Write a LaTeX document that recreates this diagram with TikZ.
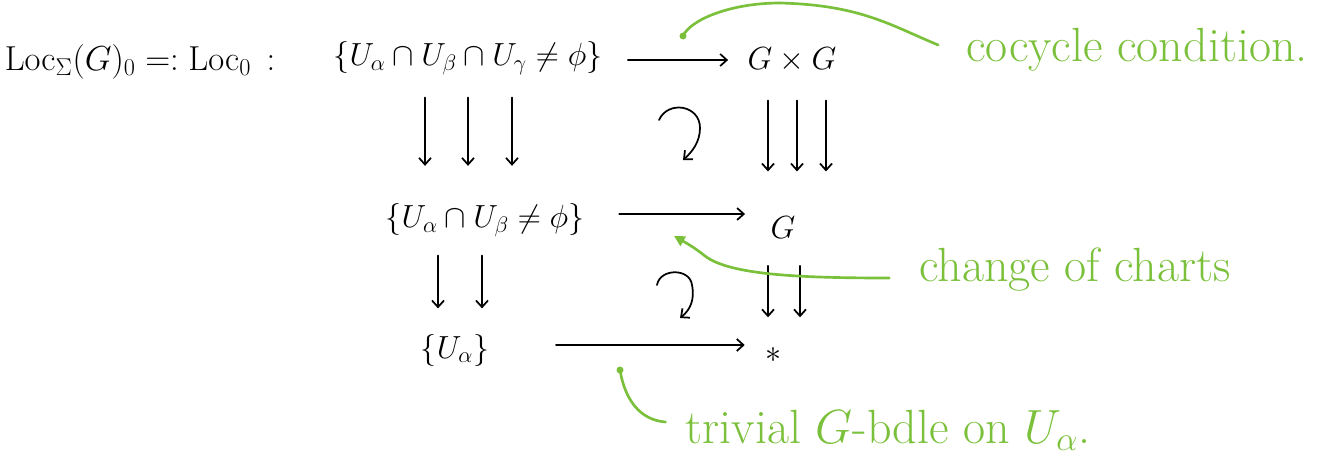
\documentclass[tikz,border=0pt]{standalone}
\usepackage{fix-cm}
\usetikzlibrary{arrows.meta,calc}
\definecolor{ann}{RGB}{122,192,58}
\begin{document}
\begin{tikzpicture}[x=0.75pt,y=-0.75pt,
  obj/.style={inner sep=0pt,font=\fontsize{24}{28}\selectfont},
  note/.style={inner sep=0pt,text=ann,font=\fontsize{36}{40}\selectfont},
  arr/.style={-{Straight Barb[length=5pt,width=9pt]},line width=1.3pt,line cap=round},
  turn/.style={-{Straight Barb[length=5pt,width=9pt]},line width=1.3pt,line cap=round},
  gline/.style={draw=ann,line width=2pt,line cap=round}]
\useasboundingbox (0,0) rectangle (1320,461);
% objects
\node[obj,font=\fontsize{26}{30}\selectfont] (loc) at (140,62) {$\mathrm{Loc}_{\Sigma}(G)_0 =: \mathrm{Loc}_0\,:$};
\node[obj] (A) at (468,58) {$\{U_\alpha\cap U_\beta\cap U_\gamma\neq\phi\}$};
\node[obj] (B) at (792,60) {$G\times G$};
\node[obj] (C) at (485,220) {$\{U_\alpha\cap U_\beta\neq\phi\}$};
\node[obj] (D) at (783,228) {$G$};
\node[obj] (E) at (455,350) {$\{U_\alpha\}$};
\node[obj] (F) at (773,355) {$*$};
% column coordinates
\coordinate (a1) at (425,0); \coordinate (a2) at (468,0); \coordinate (a3) at (512,0);
\coordinate (b1) at (768,0); \coordinate (b2) at (797,0); \coordinate (b3) at (826,0);
\coordinate (c1) at (438,0); \coordinate (c2) at (482,0);
\coordinate (d1) at (768,0); \coordinate (d2) at (800,0);
% horizontal arrows
\draw[arr,shorten <=19pt,shorten >=14.5pt] ([yshift=-1.5pt]A.east) -- ([yshift=-1.5pt]A.east -| B.west);
\draw[arr,shorten <=26pt,shorten >=19pt] ([yshift=4.5pt]C.east) -- ([yshift=4.5pt]C.east -| D.west);
\draw[arr,shorten <=50pt,shorten >=15pt] ([yshift=3.75pt]E.east) -- ([yshift=3.75pt]E.east -| F.west);
% vertical arrows row 1
\foreach \c in {a1,a2,a3}{\draw[arr,shorten <=17pt,shorten >=28pt] (A.south -| \c) -- (C.north -| \c);}
\foreach \c in {b1,b2,b3}{\draw[arr,shorten <=21pt,shorten >=34pt] (B.south -| \c) -- (D.north -| \c);}
% vertical arrows row 2
\foreach \c in {c1,c2}{\draw[arr,shorten <=14pt,shorten >=19pt] (C.south -| \c) -- (E.north -| \c);}
\foreach \c in {d1,d2}{\draw[arr,shorten <=20pt,shorten >=22.5pt] (D.south -| \c) -- (F.north -| \c);}
% commutation symbols
\coordinate (t1s) at (659,120); \coordinate (t1e) at (683,160);
\draw[turn] (t1s) .. controls (668,100) and (700,105) .. (700,128) .. controls (700,142) and (692,152) .. (t1e);
\coordinate (t2s) at (657,285); \coordinate (t2e) at (680,318);
\draw[turn] (t2s) .. controls (660,268) and (690,268) .. (692,285) .. controls (695,300) and (690,310) .. (t2e);
% annotations
\node[note] (n1) at (1137,50) {cocycle condition.};
\node[note] (n2) at (1075,270) {change of charts};
\node[note] (n3) at (888,430) {trivial $G$-bdle on $U_\alpha$.};
\coordinate (p1) at (683,36);
\fill[ann] (p1) circle (3.5);
\path[gline] (n1.west) ++(-28,-5) .. controls (890,25) and (860,5) .. (780,3) .. controls (730,3) and (690,20) .. (p1);
\coordinate (p2) at (674,236);
\draw[gline,-{Triangle[length=8pt,width=8pt]}] (n2.west) ++(-30,8) .. controls (800,278) and (730,275) .. (705,256) .. controls (695,248) and (688,244) .. (p2);
\coordinate (p3) at (620,370);
\fill[ann] (p3) circle (3.5);
\path[gline] (n3.west) ++(-20,-8) .. controls (640,420) and (625,400) .. (p3);
\end{tikzpicture}
\end{document}
